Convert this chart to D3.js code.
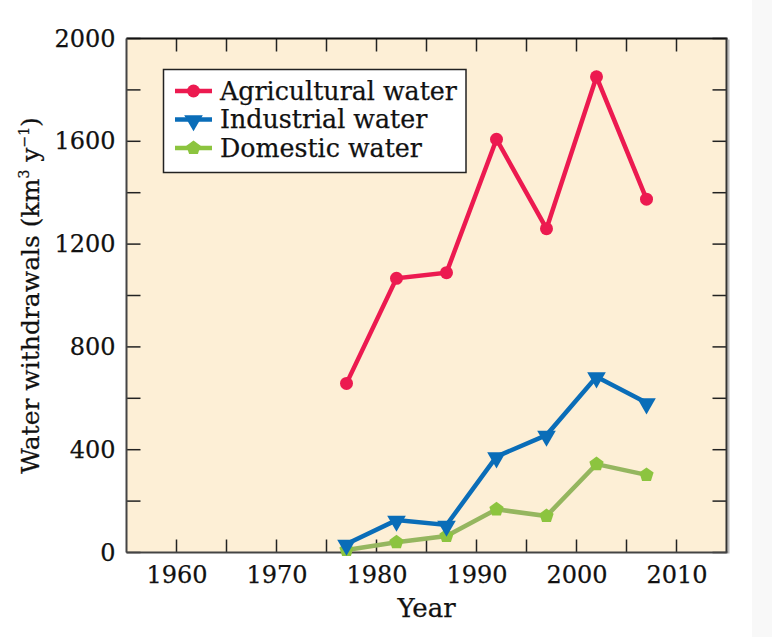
<!DOCTYPE html>
<html><head><meta charset="utf-8">
<script src="https://cdn.jsdelivr.net/npm/d3@7"></script>
<style>body{margin:0;background:#fff}svg{display:block}text{font-family:"DejaVu Serif",serif;fill:#111;stroke:#111;stroke-width:0.25px}</style>
</head><body><svg id="c" width="772" height="637"></svg>
<script>
const years = [1977, 1982, 1987, 1992, 1997, 2002, 2007];
const agricultural = [658, 1067, 1089, 1608, 1260, 1851, 1375];
const industrial = [33, 126, 107, 373, 457, 684, 583];
const domestic = [10, 40, 64, 168, 142, 344, 302];
const seriesNames = ["Agricultural water", "Industrial water", "Domestic water"];
const xTicks = [1960, 1970, 1980, 1990, 2000, 2010];
const yTicks = [0, 400, 800, 1200, 1600, 2000];

const svg = d3.select("#c");
const L = 126.5, R = 726.5, T = 38.5, B = 552.5;
const x = d3.scaleLinear().domain([1955, 2015]).range([L, R]);
const y = d3.scaleLinear().domain([0, 2000]).range([B, T]);

svg.append("rect").attr("x", 752).attr("y", 0).attr("width", 20).attr("height", 637).attr("fill", "#f8f8f8");
svg.append("rect").attr("x", 727.5).attr("y", T+1).attr("width", 2).attr("height", B-T).attr("fill", "#bbb");
svg.append("rect").attr("x", L).attr("y", T).attr("width", R-L).attr("height", B-T).attr("fill", "#fdefd6");

const g = svg.append("g");
const xt = d3.range(1960, 2015, 5);
const yt = d3.range(0, 2001, 200);
xt.forEach(v => {
  g.append("line").attr("x1", x(v)).attr("x2", x(v)).attr("y1", B).attr("y2", B-13).attr("stroke", "#222").attr("stroke-width", 1.5);
  g.append("line").attr("x1", x(v)).attr("x2", x(v)).attr("y1", T).attr("y2", T+13).attr("stroke", "#222").attr("stroke-width", 1.5);
});
yt.forEach(v => {
  g.append("line").attr("x1", L).attr("x2", L+14).attr("y1", y(v)).attr("y2", y(v)).attr("stroke", "#222").attr("stroke-width", 1.5);
  g.append("line").attr("x1", R).attr("x2", R-14).attr("y1", y(v)).attr("y2", y(v)).attr("stroke", "#222").attr("stroke-width", 1.5);
});
svg.append("line").attr("x1", L).attr("x2", R+1).attr("y1", T).attr("y2", T).attr("stroke", "#111").attr("stroke-width", 2);
svg.append("line").attr("x1", L).attr("x2", L).attr("y1", T).attr("y2", B).attr("stroke", "#444").attr("stroke-width", 2);
svg.append("line").attr("x1", R).attr("x2", R).attr("y1", T).attr("y2", B).attr("stroke", "#333").attr("stroke-width", 2);
svg.append("line").attr("x1", L).attr("x2", R+1).attr("y1", B).attr("y2", B).attr("stroke", "#444").attr("stroke-width", 2);

const xa = svg.append("g").attr("transform", `translate(0,${B})`)
  .call(d3.axisBottom(x).tickValues(xTicks).tickFormat(d3.format("d")).tickSize(0).tickPadding(13));
xa.select(".domain").remove();
xa.selectAll("text").attr("font-size", 24).attr("font-family", "DejaVu Serif").attr("fill", "#111");
const ya = svg.append("g").attr("transform", `translate(${L},0)`)
  .call(d3.axisLeft(y).tickValues(yTicks).tickFormat(d3.format("d")).tickSize(0).tickPadding(11));
ya.select(".domain").remove();
ya.selectAll("text").attr("font-size", 24).attr("font-family", "DejaVu Serif").attr("fill", "#111");

svg.append("text").attr("x", (L+R)/2).attr("y", 617).attr("text-anchor", "middle").attr("font-size", 26).text("Year");
const yl = svg.append("text").attr("transform", `translate(39,${(T+B)/2}) rotate(-90)`).attr("text-anchor", "middle").attr("font-size", 25);
yl.append("tspan").text("Water withdrawals (km");
yl.append("tspan").attr("font-size", 14).attr("dy", -10).text("3");
yl.append("tspan").attr("dy", 10).text(" y");
yl.append("tspan").attr("font-size", 14).attr("dy", -10).text("−1");
yl.append("tspan").attr("dy", 10).text(")");

const colors = ["#ec1a50", "#0a6db8", "#8cc43f"];
const lineColors = ["#ec1a50", "#0a6db8", "#95b65f"];
const data = [agricultural, industrial, domestic];
const line = d3.line().x((d, i) => x(years[i])).y(d => y(d));

function marker(sel, k, cx, cy) {
  if (k === 0) {
    sel.append("circle").attr("cx", cx).attr("cy", cy).attr("r", 6.5).attr("fill", colors[0]);
  } else if (k === 1) {
    sel.append("path").attr("d", d3.symbol(d3.symbolTriangle, 150)())
      .attr("transform", `translate(${cx},${cy+1}) rotate(180)`).attr("fill", colors[1]);
  } else {
    const r = 7.5;
    const pts = d3.range(5).map(i => {
      const a = -Math.PI/2 + i * 2*Math.PI/5;
      return [cx + r*Math.cos(a), cy + r*Math.sin(a)];
    });
    sel.append("polygon").attr("points", pts.map(p => p.join(",")).join(" ")).attr("fill", colors[2]);
  }
}

[2, 1, 0].forEach(k => {
  const gg = svg.append("g");
  gg.append("path").datum(data[k]).attr("d", line).attr("fill", "none")
    .attr("stroke", lineColors[k]).attr("stroke-width", 4.5).attr("stroke-linejoin", "miter");
  data[k].forEach((v, i) => marker(gg, k, x(years[i]), y(v)));
});

const lg = svg.append("g");
lg.append("rect").attr("x", 163.5).attr("y", 69.5).attr("width", 302.5).attr("height", 103)
  .attr("fill", "#fff").attr("stroke", "#222").attr("stroke-width", 1.5);
seriesNames.forEach((n, k) => {
  const cy = 91 + k * 28.5;
  lg.append("line").attr("x1", 175).attr("x2", 212).attr("y1", cy).attr("y2", cy)
    .attr("stroke", k === 2 ? colors[2] : lineColors[k]).attr("stroke-width", 4.5);
  marker(lg, k, 193.5, cy);
  lg.append("text").attr("x", 220).attr("y", cy + 8.5).attr("font-size", 25.3).text(n);
});
</script></body></html>
